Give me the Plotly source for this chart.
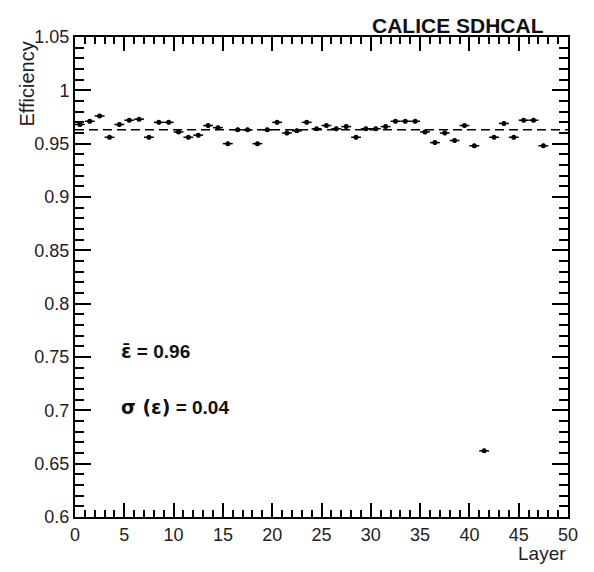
import plotly.graph_objects as go

# ---- data ----
layer_center = [0.5, 1.5, 2.5, 3.5, 4.5, 5.5, 6.5, 7.5, 8.5, 9.5,
                10.5, 11.5, 12.5, 13.5, 14.5, 15.5, 16.5, 17.5, 18.5, 19.5,
                20.5, 21.5, 22.5, 23.5, 24.5, 25.5, 26.5, 27.5, 28.5, 29.5,
                30.5, 31.5, 32.5, 33.5, 34.5, 35.5, 36.5, 37.5, 38.5, 39.5,
                40.5, 41.5, 42.5, 43.5, 44.5, 45.5, 46.5, 47.5]
efficiency = [0.968, 0.971, 0.976, 0.956, 0.968, 0.972, 0.973, 0.956, 0.970, 0.970,
              0.961, 0.956, 0.958, 0.967, 0.965, 0.950, 0.963, 0.963, 0.950, 0.963,
              0.970, 0.960, 0.962, 0.970, 0.964, 0.967, 0.964, 0.966, 0.956, 0.964,
              0.964, 0.966, 0.971, 0.971, 0.971, 0.961, 0.951, 0.960, 0.953, 0.967,
              0.948, 0.662, 0.956, 0.969, 0.956, 0.972, 0.972, 0.948]
eff_error = 0.002
bin_half_width = 0.5
mean_eff = 0.963
x_range = [0, 50]
y_range = [0.6, 1.05]

FONT = "Liberation Sans, Arial, Helvetica, sans-serif"

fig = go.Figure()

# mean dashed line
fig.add_trace(go.Scatter(
    x=x_range, y=[mean_eff, mean_eff], mode="lines",
    line=dict(color="black", width=1.5, dash="9px,5px"),
    hoverinfo="skip", showlegend=False))

fig.add_trace(go.Scatter(
    x=layer_center, y=efficiency, mode="markers",
    marker=dict(color="black", size=5, symbol="circle"),
    error_x=dict(type="constant", value=bin_half_width, color="black", thickness=1.5, width=0),
    error_y=dict(type="constant", value=eff_error, color="black", thickness=1.5, width=0),
    showlegend=False))

axis_common = dict(
    showgrid=False, zeroline=False, showline=True, linecolor="black", linewidth=2,
    mirror="ticks", ticks="inside", tickcolor="black", tickwidth=1.5,
    tickfont=dict(family=FONT, size=18, color="#222"),
)

fig.update_xaxes(range=x_range, dtick=5, tick0=0, ticklen=14,
                 minor=dict(dtick=1, ticklen=7, ticks="inside", tickcolor="black", tickwidth=1.5),
                 **axis_common)
fig.update_yaxes(range=y_range, dtick=0.05, tick0=0.6, ticklen=16,
                 minor=dict(dtick=0.01, ticklen=9, ticks="inside", tickcolor="black", tickwidth=1.5),
                 **axis_common)

# page has an 8px body margin; compensate so the page coordinates match the reference
OFF = 8
W, H = 594 - OFF, 572 - OFF
L, T = 75 - OFF, 37 - OFF
R, B = 594 - 568, 572 - 517
pw, ph = W - L - R, H - T - B

def px(xp):
    return (xp - OFF - L) / pw

def py(yp):
    return (H - B - (yp - OFF)) / ph

annotations = [
    dict(text="Efficiency", textangle=-90, x=px(27), y=py(40), xanchor="center", yanchor="top",
         font=dict(family=FONT, size=20, color="#222")),
    dict(text="Layer", x=1.0, y=py(553), xanchor="right", yanchor="middle",
         font=dict(family=FONT, size=19, color="#222")),
    dict(text="<b>CALICE SDHCAL</b>", x=px(546), y=py(25), xanchor="right", yanchor="middle",
         font=dict(family=FONT, size=21, color="#111")),
    dict(text="<b><span style='font-family:DejaVu Sans'>ε\u0304</span> = 0.96</b>",
         x=px(119), y=py(351), xanchor="left", yanchor="middle",
         font=dict(family=FONT, size=19, color="#111")),
    dict(text="<b><span style='font-family:DejaVu Sans'>σ (ε)</span> = 0.04</b>",
         x=px(119), y=py(407), xanchor="left", yanchor="middle",
         font=dict(family=FONT, size=19, color="#111")),
]
for a in annotations:
    a.update(xref="paper", yref="paper", showarrow=False)

fig.update_layout(
    width=W, height=H,
    margin=dict(l=L, r=R, t=T, b=B),
    paper_bgcolor="white", plot_bgcolor="white",
    annotations=annotations,
    showlegend=False,
)

fig.write_html("out.html")
